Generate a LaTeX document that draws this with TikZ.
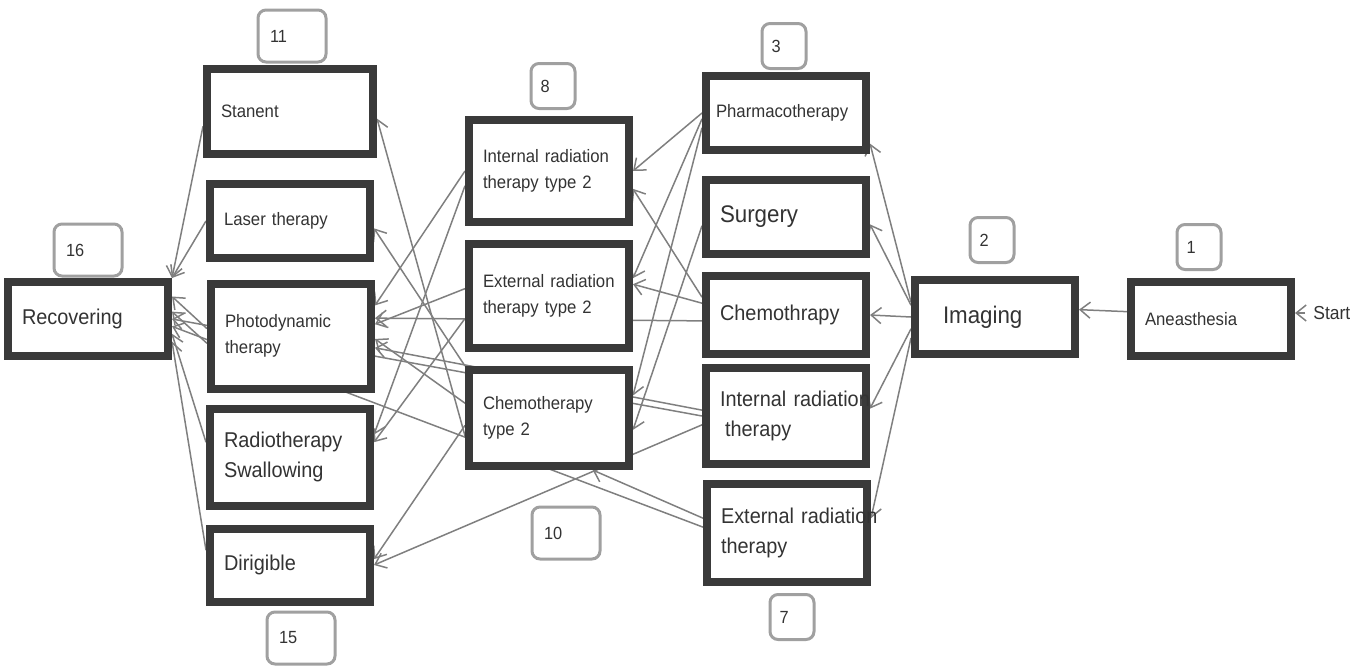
\documentclass[tikz,border=0pt]{standalone}
\usepackage{fontspec}
\setmainfont{Liberation Sans}[FakeStretch = 0.93]
\usetikzlibrary{arrows.meta,backgrounds}
\definecolor{boxgrey}{HTML}{3A3A3A}
\definecolor{txtgrey}{HTML}{333333}
\definecolor{linegrey}{HTML}{7F7F7F}
\definecolor{numgrey}{HTML}{A0A0A0}
\begin{document}
\begin{tikzpicture}[x = 0.5pt, y = -0.5pt,
  stage/.style = {draw = boxgrey, line width = 4pt, fill = white, text = txtgrey, text width = 66pt, inner xsep = 7pt, inner ysep = 2pt, align = left, minimum height = 37pt},
  smtext/.style = {font = \fontsize{9}{13}\selectfont},
  lgtext/.style = {font = \fontsize{10.7}{15}\selectfont},
  xltext/.style = {font = \fontsize{12}{15}\selectfont},
  numbox/.style = {draw = numgrey, line width = 1.5pt, rounded corners = 4pt, fill = white, text = txtgrey, font = \fontsize{8.8}{10}\selectfont, align = left, text width = 22pt, inner xsep = 6pt, minimum height = 26pt},
  numboxs/.style = {numbox, text width = 12.5pt, inner xsep = 4.75pt, minimum height = 22.5pt},
  link/.style = {draw = linegrey, line width = 0.75pt, -{Straight Barb[length = 5pt, width = 8pt]}}]
\useasboundingbox (0,0) rectangle (1365,669);
\node [stage, lgtext] (recov) at (88,319) {Recovering};
\node [stage, smtext, text width = 69pt, minimum height = 42.5pt] (stanent) at (290,111) {Stanent};
\node [stage, smtext] (laser) at (290,221) {Laser therapy};
\node [stage, smtext, minimum height = 52.5pt] (photo) at (291,336) {Photodynamic\\therapy};
\node [stage, lgtext, minimum height = 48.5pt] (radio) at (290,457) {Radiotherapy\\Swallowing};
\node [stage, lgtext, minimum height = 36.5pt] (dirig) at (290,565) {Dirigible};
\node [stage, smtext, minimum height = 51pt] (intrad2) at (549,171) {Internal radiation\\therapy type 2};
\node [stage, smtext, minimum height = 52pt] (extrad2) at (549,296) {\mbox{External radiation}\\therapy type 2};
\node [stage, smtext, minimum height = 48pt] (chemo2) at (549,418) {Chemotherapy\\type 2};
\node [stage, smtext, text width = 70pt, inner xsep = 5pt] (pharma) at (786,113) {Pharmacotherapy};
\node [stage, xltext] (surg) at (786,217) {Surgery};
\node [stage, lgtext, minimum height = 39pt] (chemo) at (786,315) {Chemothrapy};
\node [stage, lgtext, minimum height = 48pt] (intrad) at (786,416) {\mbox{Internal radiation}\\\hspace*{2.5pt}therapy};
\node [stage, lgtext, minimum height = 49pt] (extrad) at (787,533) {\mbox{External radiation}\\therapy};
\node [stage, xltext, text width = 52pt, inner xsep = 14pt] (imaging) at (995,317) {Imaging};
\node [stage, smtext] (anaes) at (1211,319) {Aneasthesia};
\node [text = txtgrey, font = \fontsize{9.4}{10}\selectfont, anchor = west, inner xsep = 4pt] (start) at (1305,313) {Start};
\node [numbox] (n11) at (292,36) {11};
\node [numbox] (n16) at (88,250) {16};
\node [numbox] (n15) at (301,638) {15};
\node [numbox] (n10) at (566,533) {10};
\node [numboxs] (n8) at (553,86) {8};
\node [numboxs] (n3) at (784,46) {3};
\node [numboxs] (n7) at (792,617) {7};
\node [numboxs] (n2) at (992,240) {2};
\node [numboxs] (n1) at (1199,247) {1};
\begin{scope}[on background layer]
\draw [link] (start.west) -- (start.west -| anaes.east);
\draw [link] (anaes.175) -- (imaging.5);
\draw [link] (imaging.170) -- (pharma.-20);
\draw [link] (imaging.172) -- (surg.-5);
\draw [link] (imaging.180) -- (chemo.east);
\draw [link] (imaging.188) -- (intrad.5);
\draw [link] (imaging.194) -- (extrad.10);
\draw [link] (pharma.west) -- (intrad2.east);
\draw [link] (pharma.184) -- (extrad2.12);
\draw [link] (pharma.190) -- (chemo2.15);
\draw [link] (surg.186) -- (chemo2.-8);
\draw [link] (chemo.168) -- (intrad2.-12);
\draw [link] (chemo.172) -- (extrad2.8);
\draw [link] (chemo.184) -- (photo.12);
\draw [link] (intrad.176) -- (photo.-8);
\draw [link] (intrad.180) -- (recov.east);
\draw [link] (intrad.186) -- (dirig.east);
\draw [link] (extrad.170) -- (chemo2.-50);
\draw [link] (extrad.176) -- (recov.-5);
\draw [link] (intrad2.west) -- (photo.20);
\draw [link] (intrad2.190) -- (radio.15);
\draw [link] (extrad2.175) -- (photo.8);
\draw [link] (extrad2.195) -- (radio.10);
\draw [link] (chemo2.192) -- (stanent.-5);
\draw [link] (chemo2.north west) -- (laser.-5);
\draw [link] (chemo2.170) -- (photo.-2);
\draw [link] (chemo2.185) -- (dirig.4);
\draw [link] (stanent.190) -- (recov.north east);
\draw [link] (laser.west) -- (recov.north east);
\draw [link] (photo.175) -- (recov.15);
\draw [link] (photo.185) -- (recov.5);
\draw [link] (radio.170) -- (recov.-10);
\draw [link] (dirig.170) -- (recov.-15);
\end{scope}
\end{tikzpicture}
\end{document}
